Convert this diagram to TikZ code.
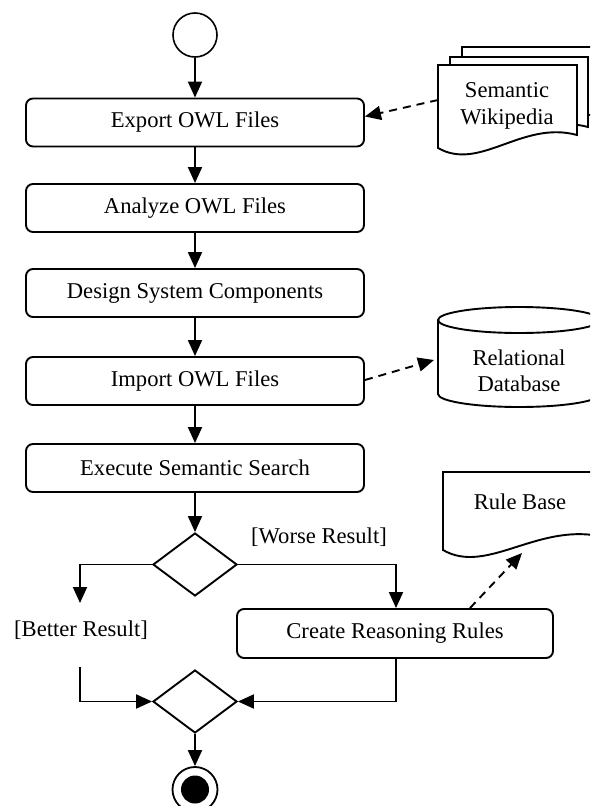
\documentclass[tikz,border=0pt]{standalone}
\usepackage{fontspec}
\setmainfont{Liberation Serif}
\usetikzlibrary{shapes.geometric,arrows.meta}
\begin{document}
\begin{tikzpicture}[x=1pt,y=-1pt,
  every node/.style={font=\fontsize{22.6}{26.5}\selectfont},
  act/.style={draw,rounded corners=7pt,minimum width=338pt,minimum height=48pt,inner sep=0pt,line width=1.9pt},
  flow/.style={line width=1.9pt,-{Triangle[length=16pt,width=14pt]}},
  dep/.style={line width=1.9pt,dash pattern=on 8pt off 6pt,-{Triangle[length=16pt,width=14pt]}},
  decision/.style={draw,diamond,line width=1.9pt,minimum width=84pt,minimum height=63pt,inner sep=0pt,aspect=1.333},
  shp/.style={draw,fill=white,line width=1.9pt}
]
\path[use as bounding box] (0,0) rectangle (590,806);
\clip (0,0) rectangle (590,806);

% start
\node[circle,draw,line width=1.6pt,minimum size=44pt,inner sep=0pt] (start) at (195,35) {};

% activities
\node[act] (export) at (195,122.5) {Export OWL Files};
\node[act] (analyze) at (195,208) {Analyze OWL Files};
\node[act] (design) at (195,293) {Design System Components};
\node[act] (import) at (195,381) {Import OWL Files};
\node[act] (execute) at (195,468) {Execute Semantic Search};
\node[decision] (d1) at (195,564.5) {};
\node[act,minimum width=316pt,minimum height=49pt] (create) at (395,633.5) {Create Reasoning Rules};
\node[decision] (d2) at (195,701.5) {};
\node[circle,draw,line width=1.8pt,minimum size=45pt,inner sep=0pt] (final) at (195,789.5) {};
\fill (final.center) circle[radius=14pt];

% multi document
\draw[shp] (462,47) -- (602,47) -- (601,117) .. controls (546,102) and (504,154) .. (462,130) -- cycle;
\draw[shp] (450,57) -- (588,57) -- (588,127) .. controls (533,112) and (492,164) .. (450,140) -- cycle;
\draw[shp] (438,65) -- (577,65) -- (577,135) .. controls (522,120) and (480,172) .. (438,148) -- cycle;
\node[align=center] (wiki) at (507,106) {Semantic\\Wikipedia};
\coordinate (wikiin) at (438,100);

% cylinder
\draw[shp] (438,320) -- (438,394) arc[start angle=180,end angle=360,x radius=81pt,y radius=13pt] -- (600,320);
\draw[line width=1.9pt] (519,320) ellipse[x radius=81pt,y radius=13pt];
\node[align=center] (db) at (519,371) {Relational\\Database};
\coordinate (dbin) at (434,360);

% rule base document
\draw[shp] (443,472) -- (599,472) -- (599,536) .. controls (536,524) and (486,575) .. (443,550) -- cycle;
\node (rules) at (520,502) {Rule Base};
\coordinate (rbin) at (522,553);

% guards
\node (worse) at (319,537) {[Worse Result]};
\node (better) at (81,630) {[Better Result]};
\coordinate (bt) at (80,603);
\coordinate (bs) at (80,667);

% flows
\draw[flow] (start) -- (export);
\draw[flow] (export) -- (analyze);
\draw[flow] (analyze) -- (design);
\draw[flow] (design) -- (import);
\draw[flow] (import) -- (execute);
\draw[flow] (execute) -- (d1);
\draw[flow] (d1.west) -| (bt);
\draw[flow] (d1.east) -| ([xshift=1pt]create.north);
\draw[flow] (bs) |- (d2.west);
\draw[flow] ([xshift=1pt]create.south) |- (d2.east);
\draw[flow] (d2) -- (final);

% dependencies
\draw[dep] (wikiin) -- ([yshift=6pt]export.east);
\draw[dep] ([yshift=1pt]import.east) -- (dbin);
\draw[dep] ([xshift=75pt]create.north) -- (rbin);
\end{tikzpicture}
\end{document}
